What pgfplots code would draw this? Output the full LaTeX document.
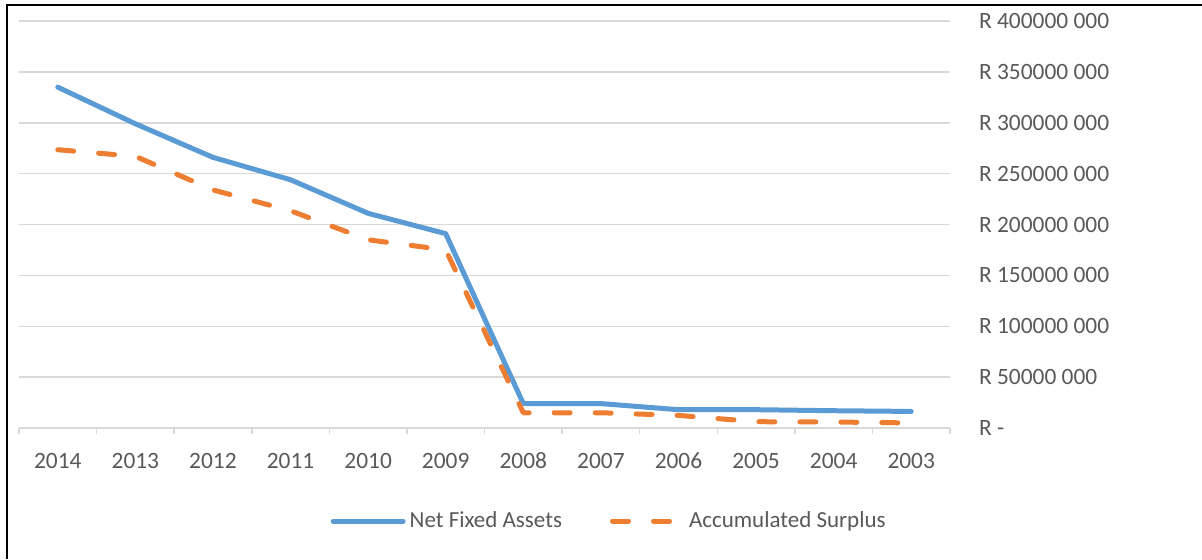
\documentclass[border=0pt]{standalone}
\usepackage{pgfplots}
\pgfplotsset{compat=1.18}
\usepackage{fontspec}
\setmainfont{Carlito}
\definecolor{blueS}{RGB}{91,155,213}
\definecolor{orangeS}{RGB}{237,125,49}
\definecolor{gridc}{RGB}{217,217,217}
\definecolor{txt}{RGB}{89,89,89}
\begin{document}
\begin{tikzpicture}[x=1pt,y=1pt]
\path[use as bounding box] (0,0) rectangle (601,-279.5);
\draw[black, line width=1pt] (3.5,-279.5) -- (3.5,-2.5) -- (601,-2.5);
\begin{axis}[
  at={(9.5pt,-214pt)}, anchor=south west,
  scale only axis, width=465.5pt, height=203.5pt,
  xmin=-0.5, xmax=11.5, ymin=0, ymax=400000000,
  scaled y ticks=false,
  axis line style={draw=none},
  xtick={0,1,2,3,4,5,6,7,8,9,10,11},
  xticklabels={2014,2013,2012,2011,2010,2009,2008,2007,2006,2005,2004,2003},
  minor xtick={-0.5,0.5,1.5,2.5,3.5,4.5,5.5,6.5,7.5,8.5,9.5,10.5,11.5},
  xtick pos=bottom, tick align=outside,
  major tick length=0pt, minor tick length=3pt,
  minor tick style={gridc, line width=0.75pt},
  ytick={0,50000000,100000000,150000000,200000000,250000000,300000000,350000000,400000000},
  yticklabels={R -,R 50000 000,R 100000 000,R 150000 000,R 200000 000,R 250000 000,R 300000 000,R 350000 000,R 400000 000},
  ytick pos=right, yticklabel pos=right,
  ymajorgrids, grid style={gridc, line width=0.75pt},
  ticklabel style={font=\fontsize{11.7}{13}\selectfont, text=txt},
  xticklabel style={anchor=base, yshift=-20pt},
  yticklabel style={anchor=west, xshift=11pt},
  clip=false,
  legend columns=2,
  legend style={at={(0.635,-0.2285)}, anchor=center, draw=none, fill=none,
    font=\fontsize{11.5}{13}\selectfont, text=txt,
    /tikz/column 2/.style={column sep=22pt}},
  legend image code/.code={\draw[#1] (0pt,0pt) -- (35pt,0pt);},
]
\addplot[blueS, line width=2.5pt, line join=round, line cap=round] coordinates {
(0,335000000) (1,299000000) (2,266000000) (3,244000000) (4,211000000) (5,191000000)
(6,24000000) (7,24000000) (8,18000000) (9,18000000) (10,17000000) (11,16300000)};
\addlegendentry{Net Fixed Assets}
\addplot[orangeS, line width=2.5pt, line join=round, line cap=round, dash pattern=on 8pt off 12.5pt] coordinates {
(0,273500000) (1,267000000) (2,234000000) (3,213500000) (4,185000000) (5,175000000)
(6,15000000) (7,15000000) (8,12400000) (9,6200000) (10,5900000) (11,5000000)};
\addlegendentry{Accumulated Surplus}
\end{axis}
\end{tikzpicture}
\end{document}
